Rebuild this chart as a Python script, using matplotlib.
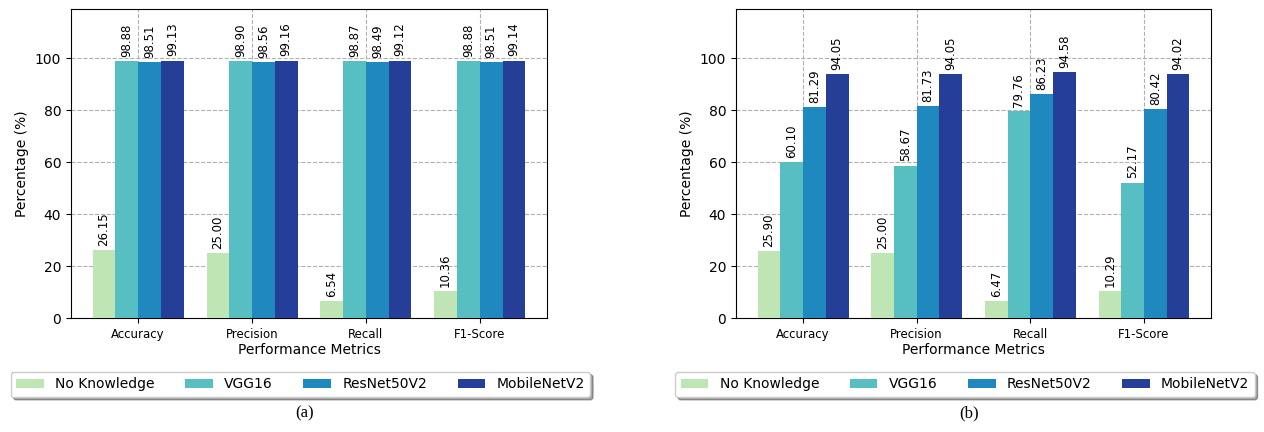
import numpy as np
import matplotlib.pyplot as plt

# ---------- Donnees ---------- #
metrics = ['Accuracy', 'Precision', 'Recall', 'F1-Score']
models = ['No Knowledge', 'VGG16', 'ResNet50V2', 'MobileNetV2']
colors = ['#bfe5b4', '#57bec1', '#1f88bf', '#253f98']

# (a)
no_knowledge_a = [26.15, 25.00, 6.54, 10.36]
vgg16_a = [98.88, 98.90, 98.87, 98.88]
resnet_a = [98.51, 98.56, 98.49, 98.51]
mobilenet_a = [99.13, 99.16, 99.12, 99.14]

# (b)
no_knowledge_b = [25.90, 25.00, 6.47, 10.29]
vgg16_b = [60.10, 58.67, 79.76, 52.17]
resnet_b = [81.29, 81.73, 86.23, 80.42]
mobilenet_b = [94.05, 94.05, 94.58, 94.02]

yticks = [0, 20, 40, 60, 80, 100]


def draw(ax, series, caption):
    x = np.arange(len(metrics))
    w = 0.2
    for i, (vals, name, col) in enumerate(zip(series, models, colors)):
        bars = ax.bar(x + (i - 1.5) * w, vals, w, label=name, color=col, zorder=3)
        ax.bar_label(bars, labels=['%.2f' % v for v in vals], rotation=90,
                     padding=3, fontsize=8.5)
    ax.set_xticks(x)
    ax.set_xticklabels(metrics, fontsize=8.5)
    ax.set_yticks(yticks)
    ax.tick_params(axis='y', labelsize=10)
    ax.set_ylim(0, 119)
    ax.set_xlim(-0.59, 3.59)
    ax.set_xlabel('Performance Metrics', fontsize=10, labelpad=2)
    ax.set_ylabel('Percentage (%)', fontsize=10)
    ax.grid(True, linestyle='--', color='#b0b0b0', linewidth=0.8, zorder=0)
    ax.legend(loc='upper center', bbox_to_anchor=(0.482, -0.152), ncol=4,
              fontsize=10, shadow=True, fancybox=True, handlelength=2,
              columnspacing=2.2, edgecolor='#cccccc')
    ax.text(0.49, -0.31, caption, transform=ax.transAxes, ha='center',
            va='center', fontsize=12, family='Liberation Serif')


fig = plt.figure(figsize=(12.64, 4.32), dpi=100)
ax1 = fig.add_axes([71 / 1264, 1 - 318 / 432, 476 / 1264, 309 / 432])
ax2 = fig.add_axes([736 / 1264, 1 - 318 / 432, 475 / 1264, 309 / 432])

draw(ax1, [no_knowledge_a, vgg16_a, resnet_a, mobilenet_a], '(a)')
draw(ax2, [no_knowledge_b, vgg16_b, resnet_b, mobilenet_b], '(b)')

fig.savefig('out.png', dpi=100)
